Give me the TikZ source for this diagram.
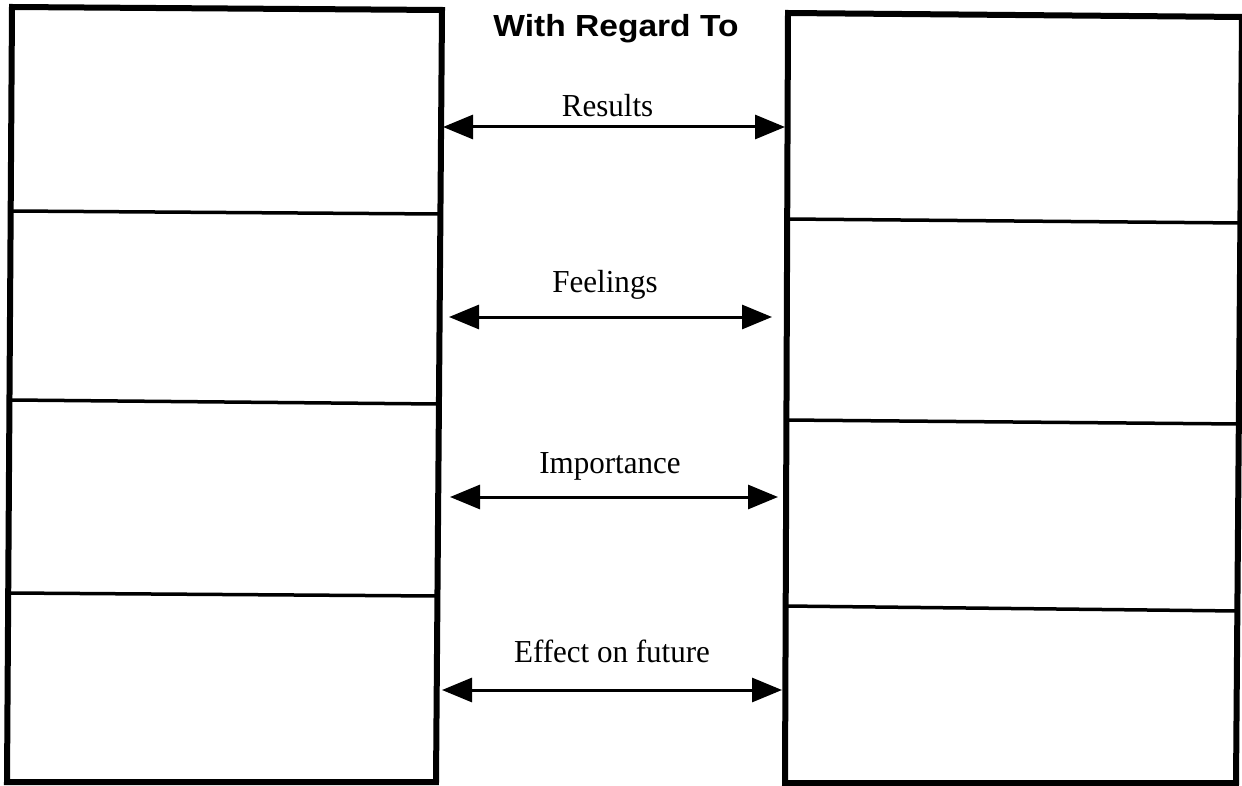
\documentclass[tikz,border=0pt]{standalone}
\usepackage{fontspec}
\setmainfont{Liberation Serif}
\newfontfamily\titlefont{Liberation Sans}
\usetikzlibrary{arrows.meta}
\begin{document}
\begin{tikzpicture}[x=1pt,y=-1pt,
  outer/.style={line width=6pt,line join=miter},
  divider/.style={line width=3.5pt},
  link/.style={line width=3pt,{Triangle[length=30pt,width=24pt]}-{Triangle[length=30pt,width=24pt]}},
  lbl/.style={font=\fontsize{32}{36}\selectfont,inner sep=0pt,anchor=base},
  ttl/.style={font=\titlefont\bfseries\fontsize{30.5}{36}\selectfont,inner sep=0pt,anchor=base}]
\useasboundingbox (0,0) rectangle (1242,786);
\fill[white] (0,0) rectangle (1242,786);
% left box
\draw[outer] (12,7) -- (442,10) -- (436,782) -- (7,782) -- cycle;
\draw[divider] (12,211) -- (440,214);
\draw[divider] (11,400) -- (438,404);
\draw[divider] (9,593) -- (437,596);
% right box
\draw[outer] (788,13) -- (1242,17) -- (1236,783) -- (785,783) -- cycle;
\draw[divider] (787,219) -- (1241,223);
\draw[divider] (786,420) -- (1240,424);
\draw[divider] (785,606) -- (1238,611);
% title
\node[ttl] (title) at (616,37) {\scalebox{1.1}[1]{With Regard To}};
% labels
\node[lbl] (res) at (607.5,117) {\scalebox{0.97}[1]{Results}};
\node[lbl] (feel) at (605,293) {\scalebox{0.97}[1]{Feelings}};
\node[lbl] (imp) at (610,473) {\scalebox{0.97}[1]{Importance}};
\node[lbl] (eff) at (612,662) {\scalebox{0.97}[1]{Effect on future}};
% arrow endpoints
\coordinate (r1) at (443,127); \coordinate (r2) at (785,127);
\coordinate (f1) at (449,317); \coordinate (f2) at (772,317);
\coordinate (i1) at (450,497); \coordinate (i2) at (778,497);
\coordinate (e1) at (442,690); \coordinate (e2) at (782,690);
\draw[link] (r1) -- (r2);
\draw[link] (f1) -- (f2);
\draw[link] (i1) -- (i2);
\draw[link] (e1) -- (e2);
\end{tikzpicture}
\end{document}
